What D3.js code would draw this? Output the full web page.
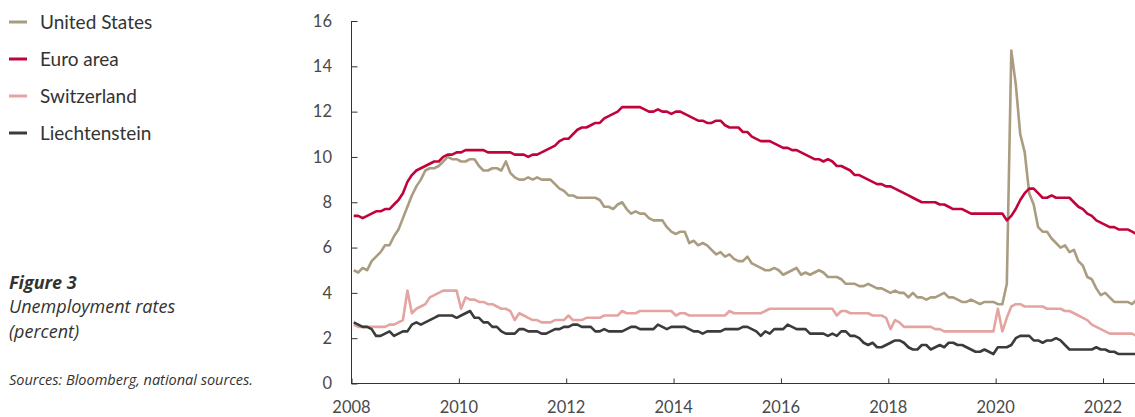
<!DOCTYPE html>
<html lang="en">
<head>
	<meta charset="UTF-8">
	<script src="https://cdn.jsdelivr.net/npm/d3@7"></script>
	<title>Unemployment rates</title>
	<style>
		body { margin: 0; background: #fff; }
		svg { display: block; font-family: Lato, "Noto Sans", sans-serif; }
		.axis-line { stroke: #333; stroke-width: 1; shape-rendering: crispEdges; }
		.tick-label { fill: #4a4a4a; font-size: 16.5px; }
		.legend-text { fill: #333; font-size: 19px; }
		.caption { fill: #333; font-size: 18px; font-style: italic; font-family: "Open Sans", Lato, sans-serif; }
	</style>
</head>
<body>
	<div id="container"></div>
</body>
<script>
	const width = 1135,
		height = 417;

	// monthly data, Jan 2008 - Aug 2022
	const startYear = 2008;

	const unitedStates = [
		5.0,4.9,5.1,5.0,5.4,5.6,5.8,6.1,6.1,6.5,6.8,7.3,
		7.8,8.3,8.7,9.0,9.4,9.5,9.5,9.6,9.8,10.0,9.9,9.9,
		9.8,9.8,9.9,9.9,9.6,9.4,9.4,9.5,9.5,9.4,9.8,9.3,
		9.1,9.0,9.0,9.1,9.0,9.1,9.0,9.0,9.0,8.8,8.6,8.5,
		8.3,8.3,8.2,8.2,8.2,8.2,8.2,8.1,7.8,7.8,7.7,7.9,
		8.0,7.7,7.5,7.6,7.5,7.5,7.3,7.2,7.2,7.2,6.9,6.7,
		6.6,6.7,6.7,6.2,6.3,6.1,6.2,6.1,5.9,5.7,5.8,5.6,
		5.7,5.5,5.4,5.4,5.6,5.3,5.2,5.1,5.0,5.0,5.1,5.0,
		4.8,4.9,5.0,5.1,4.8,4.9,4.8,4.9,5.0,4.9,4.7,4.7,
		4.7,4.6,4.4,4.4,4.4,4.3,4.3,4.4,4.3,4.2,4.2,4.1,
		4.0,4.1,4.0,4.0,3.8,4.0,3.8,3.8,3.7,3.8,3.8,3.9,
		4.0,3.8,3.8,3.7,3.6,3.6,3.7,3.6,3.5,3.6,3.6,3.6,
		3.5,3.5,4.4,14.7,13.2,11.0,10.2,8.4,7.9,6.9,6.7,6.7,
		6.4,6.2,6.0,6.1,5.8,5.9,5.4,5.2,4.7,4.6,4.2,3.9,
		4.0,3.8,3.6,3.6,3.6,3.6,3.5,3.7
	];

	const euroArea = [
		7.4,7.4,7.3,7.4,7.5,7.6,7.6,7.7,7.7,7.9,8.1,8.4,
		8.9,9.2,9.4,9.5,9.6,9.7,9.8,9.8,10.0,10.1,10.1,10.2,
		10.2,10.3,10.3,10.3,10.3,10.3,10.2,10.2,10.2,10.2,10.2,10.2,
		10.1,10.1,10.1,10.0,10.1,10.1,10.2,10.3,10.4,10.5,10.7,10.8,
		10.8,11.0,11.2,11.3,11.3,11.4,11.5,11.5,11.7,11.8,11.9,12.0,
		12.2,12.2,12.2,12.2,12.2,12.1,12.0,12.0,12.1,12.0,12.0,11.9,
		12.0,12.0,11.9,11.8,11.7,11.6,11.6,11.5,11.5,11.6,11.6,11.4,
		11.3,11.3,11.3,11.1,11.1,10.9,10.8,10.7,10.7,10.7,10.6,10.5,
		10.4,10.4,10.3,10.3,10.2,10.1,10.0,9.9,9.9,9.8,9.9,9.8,
		9.6,9.6,9.5,9.4,9.2,9.2,9.1,9.0,8.9,8.8,8.8,8.7,
		8.7,8.6,8.5,8.4,8.3,8.2,8.1,8.0,8.0,8.0,8.0,7.9,
		7.9,7.8,7.7,7.7,7.7,7.6,7.5,7.5,7.5,7.5,7.5,7.5,
		7.5,7.5,7.2,7.4,7.7,8.1,8.4,8.6,8.6,8.4,8.2,8.2,
		8.3,8.2,8.2,8.2,8.2,8.0,7.8,7.7,7.5,7.4,7.2,7.1,
		7.0,6.9,6.9,6.8,6.8,6.8,6.7,6.6
	];

	const switzerland = [
		2.6,2.5,2.5,2.5,2.5,2.5,2.5,2.5,2.6,2.6,2.7,2.8,
		4.1,3.1,3.3,3.4,3.5,3.8,3.9,4.0,4.1,4.1,4.1,4.1,
		3.3,3.8,3.7,3.7,3.6,3.6,3.5,3.5,3.4,3.3,3.3,3.2,
		2.8,3.1,3.0,2.9,2.8,2.8,2.7,2.7,2.7,2.8,2.8,2.8,
		3.0,2.8,2.8,2.8,2.9,2.9,2.9,2.9,3.0,3.0,3.0,3.0,
		3.2,3.1,3.1,3.1,3.2,3.2,3.2,3.2,3.2,3.2,3.2,3.2,
		3.0,3.1,3.1,3.0,3.0,3.0,3.0,3.0,3.0,3.0,3.0,3.0,
		3.2,3.1,3.1,3.1,3.1,3.1,3.1,3.1,3.2,3.3,3.3,3.3,
		3.3,3.3,3.3,3.3,3.3,3.3,3.3,3.3,3.3,3.3,3.3,3.3,
		3.0,3.2,3.2,3.1,3.1,3.1,3.1,3.1,3.0,3.0,3.0,2.9,
		2.4,2.8,2.7,2.5,2.5,2.5,2.5,2.5,2.5,2.5,2.4,2.4,
		2.3,2.3,2.3,2.3,2.3,2.3,2.3,2.3,2.3,2.3,2.3,2.3,
		3.3,2.3,2.9,3.4,3.5,3.5,3.4,3.4,3.4,3.4,3.4,3.3,
		3.3,3.3,3.3,3.2,3.2,3.1,3.0,2.9,2.8,2.6,2.5,2.4,
		2.3,2.2,2.2,2.2,2.2,2.2,2.2,2.1
	];

	const liechtenstein = [
		2.7,2.6,2.5,2.5,2.4,2.1,2.1,2.2,2.3,2.1,2.2,2.3,
		2.3,2.6,2.7,2.6,2.7,2.8,2.9,3.0,3.0,3.0,3.0,2.9,
		3.0,3.1,3.2,2.9,2.9,2.7,2.7,2.5,2.5,2.3,2.2,2.2,
		2.2,2.4,2.4,2.3,2.3,2.3,2.2,2.2,2.3,2.4,2.4,2.5,
		2.5,2.6,2.6,2.5,2.5,2.5,2.3,2.3,2.4,2.3,2.3,2.3,
		2.3,2.4,2.5,2.5,2.4,2.4,2.4,2.4,2.6,2.5,2.4,2.5,
		2.5,2.5,2.5,2.4,2.3,2.3,2.2,2.3,2.3,2.3,2.3,2.4,
		2.4,2.4,2.4,2.5,2.5,2.4,2.3,2.1,2.3,2.2,2.4,2.4,
		2.4,2.6,2.5,2.4,2.4,2.4,2.2,2.2,2.2,2.2,2.1,2.2,
		2.1,2.3,2.3,2.1,2.1,2.0,1.8,1.7,1.8,1.6,1.6,1.7,
		1.8,1.9,1.9,1.8,1.6,1.5,1.5,1.7,1.7,1.5,1.6,1.7,
		1.6,1.8,1.8,1.7,1.7,1.6,1.5,1.4,1.4,1.5,1.4,1.3,
		1.6,1.6,1.6,1.7,2.0,2.1,2.1,2.1,1.9,1.9,1.8,1.9,
		1.9,2.0,1.9,1.7,1.5,1.5,1.5,1.5,1.5,1.5,1.6,1.5,
		1.5,1.4,1.4,1.3,1.3,1.3,1.3,1.3
	];

	const seriesNames = ['United States', 'Euro area', 'Switzerland', 'Liechtenstein'];
	const seriesData = [unitedStates, euroArea, switzerland, liechtenstein];
	const seriesColors = ['#a99c80', '#c0043b', '#e4a4a1', '#3b3b3b'];

	const yTicks = [0, 2, 4, 6, 8, 10, 12, 14, 16];
	const xTicks = [2008, 2010, 2012, 2014, 2016, 2018, 2020, 2022];

	const plotLeft = 351.5,
		plotRight = 1135,
		plotTop = 21,
		plotBottom = 383.5;

	const x = d3.scaleLinear()
		.domain([2008, 2022])
		.range([plotLeft, 1103]);

	const y = d3.scaleLinear()
		.domain([0, 16])
		.range([plotBottom, plotTop]);

	const svg = d3.select('#container')
		.append('svg')
		.attr('width', width)
		.attr('height', height);

	// axes
	const yAxis = d3.axisRight(y)
		.tickValues(yTicks)
		.tickSize(6)
		.tickFormat('');
	const gy = svg.append('g')
		.attr('transform', `translate(${plotLeft}, 0)`)
		.call(yAxis);
	gy.select('.domain').remove();
	gy.selectAll('line').attr('stroke', '#333');
	gy.append('line')
		.attr('class', 'axis-line')
		.attr('x1', 0).attr('x2', 0)
		.attr('y1', plotTop).attr('y2', plotBottom);

	const xAxis = d3.axisTop(x)
		.tickValues(xTicks)
		.tickSize(5)
		.tickFormat('');
	const gx = svg.append('g')
		.attr('transform', `translate(0, ${plotBottom})`)
		.call(xAxis);
	gx.select('.domain').remove();
	gx.selectAll('line').attr('stroke', '#333');
	gx.append('line')
		.attr('class', 'axis-line')
		.attr('x1', plotLeft).attr('x2', plotRight)
		.attr('y1', 0).attr('y2', 0);

	svg.append('g')
		.selectAll('text')
		.data(yTicks)
		.join('text')
		.attr('class', 'tick-label')
		.attr('x', 332)
		.attr('y', d => y(d))
		.attr('dy', '0.35em')
		.attr('text-anchor', 'end')
		.text(d => d);

	svg.append('g')
		.selectAll('text')
		.data(xTicks)
		.join('text')
		.attr('class', 'tick-label')
		.attr('x', d => x(d))
		.attr('y', 413)
		.attr('text-anchor', 'middle')
		.text(d => d);

	// lines
	const line = d3.line()
		.x((d, i) => x(startYear + (i + 0.5) / 12))
		.y(d => y(d));

	svg.append('g')
		.selectAll('path')
		.data(seriesData)
		.join('path')
		.attr('d', d => line(d))
		.attr('fill', 'none')
		.attr('stroke', (d, i) => seriesColors[i])
		.attr('stroke-width', 2.6)
		.attr('stroke-linejoin', 'round');

	// legend
	const legend = svg.append('g')
		.selectAll('g')
		.data(seriesNames)
		.join('g')
		.attr('transform', (d, i) => `translate(0, ${22 + i * 37})`);
	legend.append('line')
		.attr('x1', 9).attr('x2', 27)
		.attr('y1', 0).attr('y2', 0)
		.attr('stroke', (d, i) => seriesColors[i])
		.attr('stroke-width', 3);
	legend.append('text')
		.attr('class', 'legend-text')
		.attr('x', 40)
		.attr('y', 0)
		.attr('dy', '0.35em')
		.text(d => d);

	// caption
	svg.append('text')
		.attr('class', 'caption')
		.attr('x', 9).attr('y', 289)
		.style('font-weight', 'bold')
		.text('Figure 3');
	svg.append('text')
		.attr('class', 'caption')
		.attr('x', 9).attr('y', 313)
		.text('Unemployment rates');
	svg.append('text')
		.attr('class', 'caption')
		.attr('x', 9).attr('y', 338)
		.text('(percent)');
	svg.append('text')
		.attr('class', 'caption')
		.attr('x', 9).attr('y', 385)
		.style('font-size', '14.5px')
		.text('Sources: Bloomberg, national sources.');
</script>
</html>
